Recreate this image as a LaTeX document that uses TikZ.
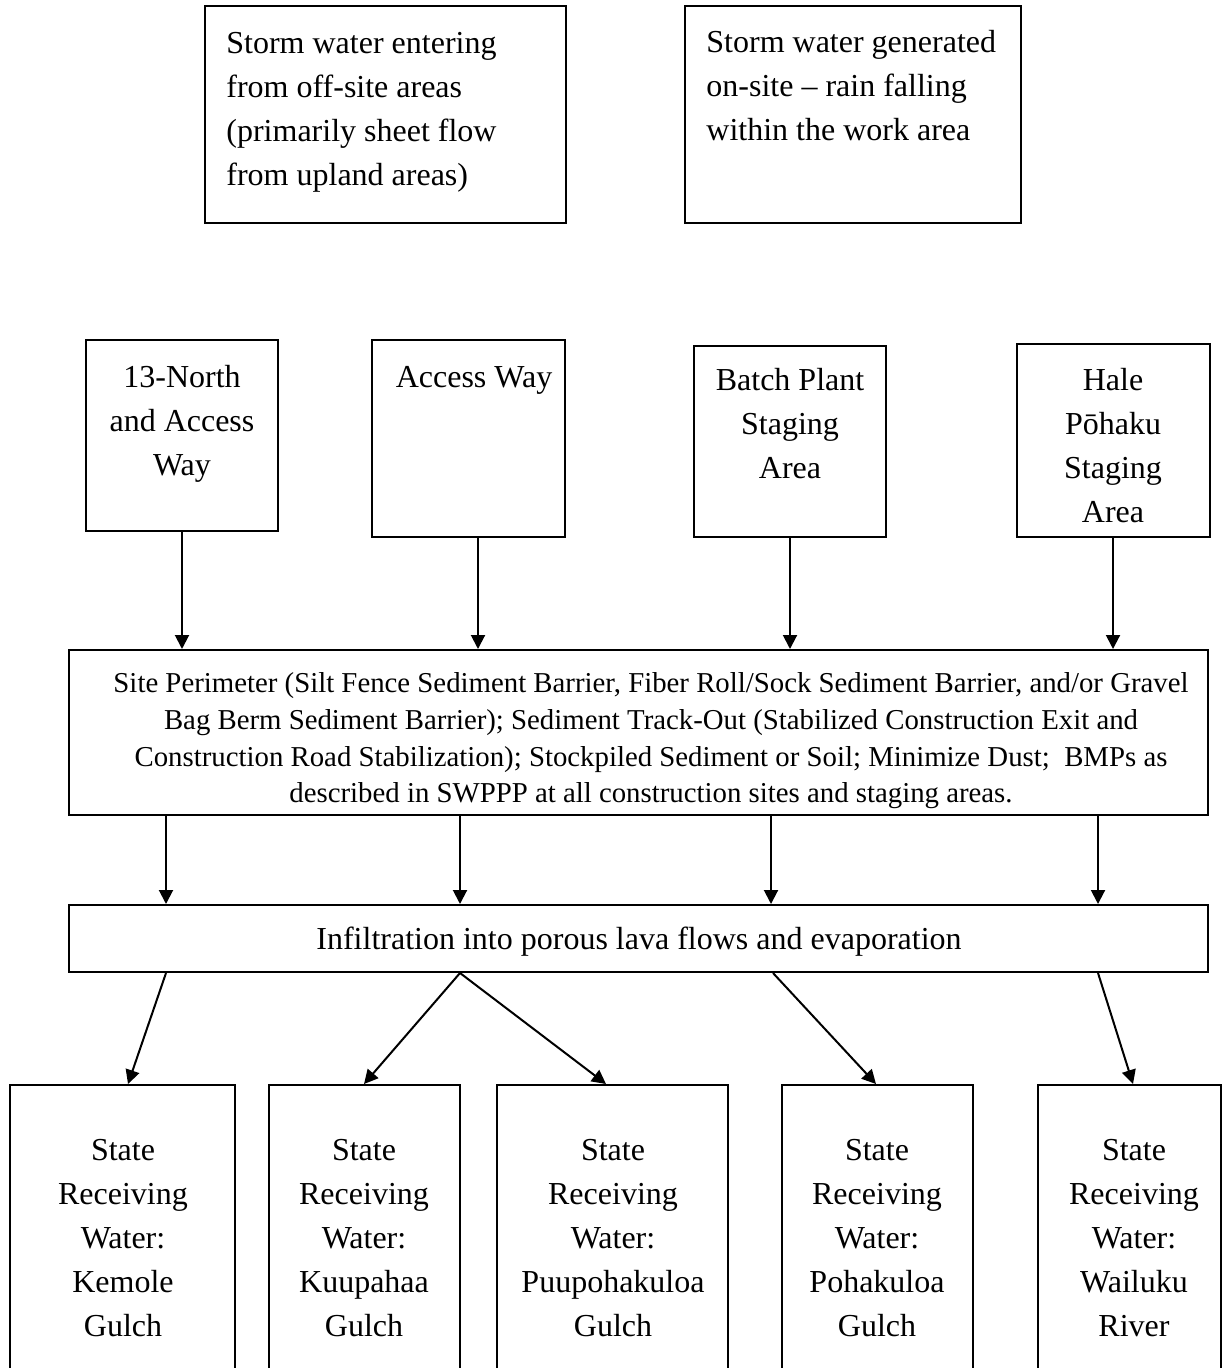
\documentclass[tikz,border=0pt]{standalone}
\usepackage{fontspec}
\setmainfont{Liberation Serif}
\usetikzlibrary{arrows.meta,fit}
\begin{document}
\begin{tikzpicture}[x=0.5pt,y=-0.5pt,
  box/.style={draw,line width=1pt,inner sep=0pt,rectangle},
  txt/.style={inner sep=0pt,font=\fontsize{16}{22}\selectfont,align=center},
  ptxt/.style={inner sep=0pt,font=\fontsize{14.4}{18.3}\selectfont,align=center},
  arr/.style={line width=1pt,-{Triangle[length=7pt,width=7pt]}}]
\useasboundingbox (0,0) rectangle (1223,1368);
\clip (0,0) rectangle (1223,1368);
% top boxes
\node[box,fit={(205,6) (566,223)}] (T1) {};
\node[box,fit={(685,6) (1021,223)}] (T2) {};
\node[txt,align=left,anchor=west] (T1t) at (226,112) {Storm water entering\\from off-site areas\\(primarily sheet flow\\from upland areas)};
\node[txt,align=left,anchor=west] (T2t) at (706,86) {Storm water generated\\on-site -- rain falling\\within the work area};
% second row
\node[box,fit={(86,340) (278,531)}] (B1) {};
\node[box,fit={(372,340) (565,537)}] (B2) {};
\node[box,fit={(694,346) (886,537)}] (B3) {};
\node[box,fit={(1017,344) (1210,537)}] (B4) {};
\node[txt] (B1t) at (182,424) {13-North\\and Access\\Way};
\node[txt] (B2t) at (474,380) {Access Way};
\node[txt] (B3t) at (790,424) {Batch Plant\\Staging\\Area};
\node[txt] (B4t) at (1113,446) {Hale\\Pōhaku\\Staging\\Area};
% perimeter
\node[box,fit={(69,650) (1208,815)}] (P) {};
\node[ptxt] (Pt) at (651,741) {Site Perimeter (Silt Fence Sediment Barrier, Fiber Roll/Sock Sediment Barrier, and/or Gravel\\Bag Berm Sediment Barrier); Sediment Track-Out (Stabilized Construction Exit and\\Construction Road Stabilization); Stockpiled Sediment or Soil; Minimize Dust;\ \ BMPs as\\described in SWPPP at all construction sites and staging areas.};
% infiltration
\node[box,fit={(69,905) (1208,972)}] (I) {};
\node[txt] (It) at (639,942) {Infiltration into porous lava flows and evaporation};
% bottom boxes
\node[box,fit={(10,1085) (235,1420)}] (K1) {};
\node[box,fit={(269,1085) (460,1420)}] (K2) {};
\node[box,fit={(497,1085) (728,1420)}] (K3) {};
\node[box,fit={(782,1085) (973,1420)}] (K4) {};
\node[box,fit={(1038,1085) (1221,1420)}] (K5) {};
\node[txt] (K1t) at (123,1238) {State\\Receiving\\Water:\\Kemole\\Gulch};
\node[txt] (K2t) at (364,1238) {State\\Receiving\\Water:\\Kuupahaa\\Gulch};
\node[txt] (K3t) at (613,1238) {State\\Receiving\\Water:\\Puupohakuloa\\Gulch};
\node[txt] (K4t) at (877,1238) {State\\Receiving\\Water:\\Pohakuloa\\Gulch};
\node[txt] (K5t) at (1134,1238) {State\\Receiving\\Water:\\Wailuku\\River};
% arrows row2 -> perimeter
\draw[arr] (182,0 |- B1.south) -- (182,0 |- P.north);
\draw[arr] (478,0 |- B2.south) -- (478,0 |- P.north);
\draw[arr] (790,0 |- B3.south) -- (790,0 |- P.north);
\draw[arr] (1113,0 |- B4.south) -- (1113,0 |- P.north);
% perimeter -> infiltration
\draw[arr] (166,0 |- P.south) -- (166,0 |- I.north);
\draw[arr] (460,0 |- P.south) -- (460,0 |- I.north);
\draw[arr] (771,0 |- P.south) -- (771,0 |- I.north);
\draw[arr] (1098,0 |- P.south) -- (1098,0 |- I.north);
% infiltration -> receiving waters
\draw[arr] (166,0 |- I.south) -- (128,0 |- K1.north);
\draw[arr] (460,0 |- I.south) -- (364,0 |- K2.north);
\draw[arr] (460,0 |- I.south) -- (606,0 |- K3.north);
\draw[arr] (773,0 |- I.south) -- (876,0 |- K4.north);
\draw[arr] (1098,0 |- I.south) -- (1133,0 |- K5.north);
\end{tikzpicture}
\end{document}
